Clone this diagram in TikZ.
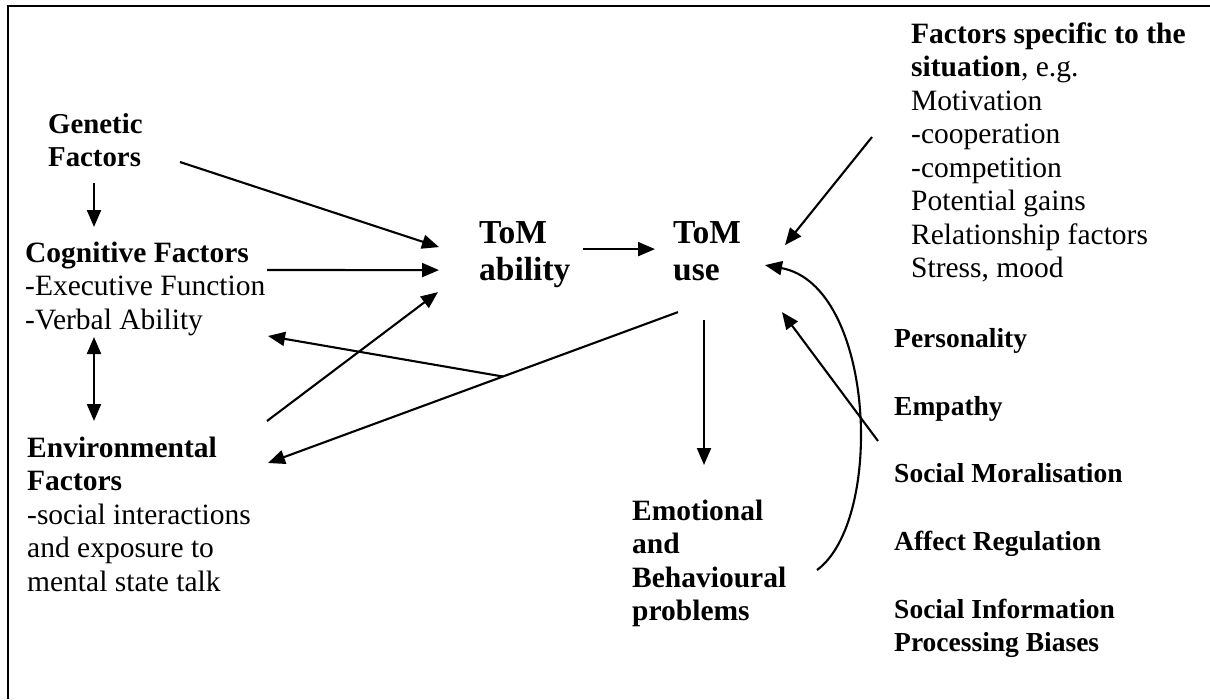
\documentclass[tikz,border=0pt]{standalone}
\usepackage{fontspec}
\setmainfont{Liberation Serif}
\usetikzlibrary{arrows.meta,calc}
\tikzset{
  txt/.style={anchor=north west, inner sep=0pt, align=left, font=\fontsize{29.5}{33.5}\selectfont},
  btxt/.style={txt, font=\fontsize{29.5}{33.5}\selectfont\bfseries},
  rtxt/.style={txt, font=\fontsize{27.5}{33.5}\selectfont\bfseries},
  tom/.style={anchor=north west, inner sep=0pt, align=left, font=\fontsize{33.5}{37}\selectfont\bfseries},
  arr/.style={line width=2.1pt, -{Triangle[length=17pt,width=14pt]}},
  dbl/.style={line width=2.1pt, {Triangle[length=17pt,width=14pt]}-{Triangle[length=17pt,width=14pt]}},
  frame/.style={line width=2.5pt}
}
\begin{document}
\begin{tikzpicture}[x=1pt,y=-1pt]
\useasboundingbox (0,0) rectangle (1210,699);
\draw[frame] (8,699) -- (8,6) -- (1210,6);
\node[btxt, font=\fontsize{28.8}{33.5}\selectfont\bfseries] (gen) at (48,109.5) {\strut Genetic\\Factors};
\node[txt] (cog) at (25,238.5) {\strut\textbf{Cognitive Factors}\\-Executive Function\\-Verbal Ability};
\node[txt] (env) at (27,433.5) {\strut\textbf{Environmental}\\\textbf{Factors}\\-social interactions\\and exposure to\\mental state talk};
\node[tom] (abil) at (479,217.1) {\strut ToM\\ability};
\node[tom] (use) at (673,217.1) {\strut ToM\\use};
\node[btxt] (emo) at (632,496.5) {\strut Emotional\\and\\Behavioural\\problems};
\node[txt] (sit) at (911,19.5) {\strut\textbf{Factors specific to the}\\\textbf{situation}, e.g.\\Motivation\\-cooperation\\-competition\\Potential gains\\Relationship factors\\Stress, mood};
\node[rtxt] (pers) at (894,323.5) {\strut Personality};
\node[rtxt] (emp) at (894,391.5) {\strut Empathy};
\node[rtxt] (mor) at (894,458.5) {\strut Social Moralisation};
\node[rtxt] (aff) at (894,526.5) {\strut Affect Regulation};
\node[rtxt] (sip) at (894,594.5) {\strut Social Information\\Processing Biases};
% arrows
\draw[arr] ([shift={(46,73.5)}]gen.north west) -- ([shift={(69,-11.5)}]cog.north west);
\draw[arr] ([shift={(132,52.5)}]gen.north west) -- ([shift={(-40,30)}]abil.north west);
\draw[arr] ([shift={(242,31.5)}]cog.north west) -- ([shift={(-40,53)}]abil.north west);
\draw[arr] ([shift={(240,-12.5)}]env.north west) -- ([shift={(-41,75)}]abil.north west);
\draw[dbl] ([shift={(69,98.5)}]cog.north west) -- ([shift={(67,-12.5)}]env.north west);
\draw[arr] ([shift={(104,32)}]abil.north west) -- ([shift={(-18,32)}]use.north west);
\draw[arr] ([shift={(5,95)}]use.north west) -- coordinate[pos=0.427] (jn) ([shift={(241,29.5)}]env.north west);
\draw[arr] (jn) -- ([shift={(243,97.5)}]cog.north west);
\draw[arr] ([shift={(31,103)}]use.north west) -- ([shift={(72,-31.5)}]emo.north west);
\draw[arr] ([shift={(-39,117.5)}]sit.north west) -- ([shift={(112,28)}]use.north west);
\draw[arr] ([shift={(-16,-17.5)}]mor.north west) -- ([shift={(109,95)}]use.north west);
\draw[arr] ([shift={(185,73.5)}]emo.north west) .. controls +(68,-50) and +(110,20) .. ([shift={(92,48)}]use.north west);
\end{tikzpicture}
\end{document}
